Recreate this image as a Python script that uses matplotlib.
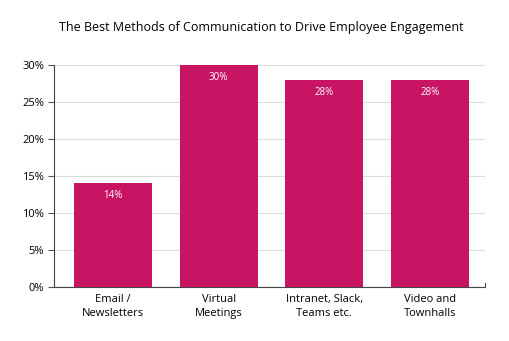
import matplotlib.pyplot as plt
from matplotlib.ticker import FuncFormatter

plt.rcParams['font.family'] = ['Open Sans', 'DejaVu Sans']

categories = ['Email /\nNewsletters', 'Virtual\nMeetings', 'Intranet, Slack,\nTeams etc.', 'Video and\nTownhalls']
values = [14, 30, 28, 28]
yticks = [0, 5, 10, 15, 20, 25, 30]

bar_color = '#C81563'

fig = plt.figure(figsize=(5.1, 3.41), dpi=100)
ax = fig.add_axes([54 / 510, 54 / 341, 431 / 510, 222 / 341])

x = range(len(categories))
bars = ax.bar(x, values, width=0.74, color=bar_color, zorder=3)

for b, v in zip(bars, values):
    ax.text(b.get_x() + b.get_width() / 2, v - 1.7, f'{v}%', ha='center', va='center',
            color='white', fontsize=7)

ax.set_xlim(-0.558, 3.52)
ax.set_ylim(0, 30)
ax.set_yticks(yticks)
ax.yaxis.set_major_formatter(FuncFormatter(lambda v, p: f'{int(v)}%'))
ax.set_xticks(list(x))
ax.set_xticklabels(categories, fontsize=8, linespacing=1.4)
ax.tick_params(axis='x', length=0, pad=5)
ax.tick_params(axis='y', length=4, color='#555555', labelsize=8, pad=3)
ax.grid(axis='y', color='#dcdcdc', linewidth=0.8, zorder=0)

for s in ['top', 'right']:
    ax.spines[s].set_visible(False)
for s in ['left', 'bottom']:
    ax.spines[s].set_color('#444444')
    ax.spines[s].set_linewidth(0.8)

# small end tick on the right of the x axis
ax.plot([1, 1], [0, 0.02], transform=ax.transAxes, color='#444444', lw=0.8, clip_on=False)

fig.text(261 / 510, 1 - 28 / 341, 'The Best Methods of Communication to Drive Employee Engagement',
         ha='center', va='center', fontsize=9)

fig.savefig('out.png', dpi=100)
